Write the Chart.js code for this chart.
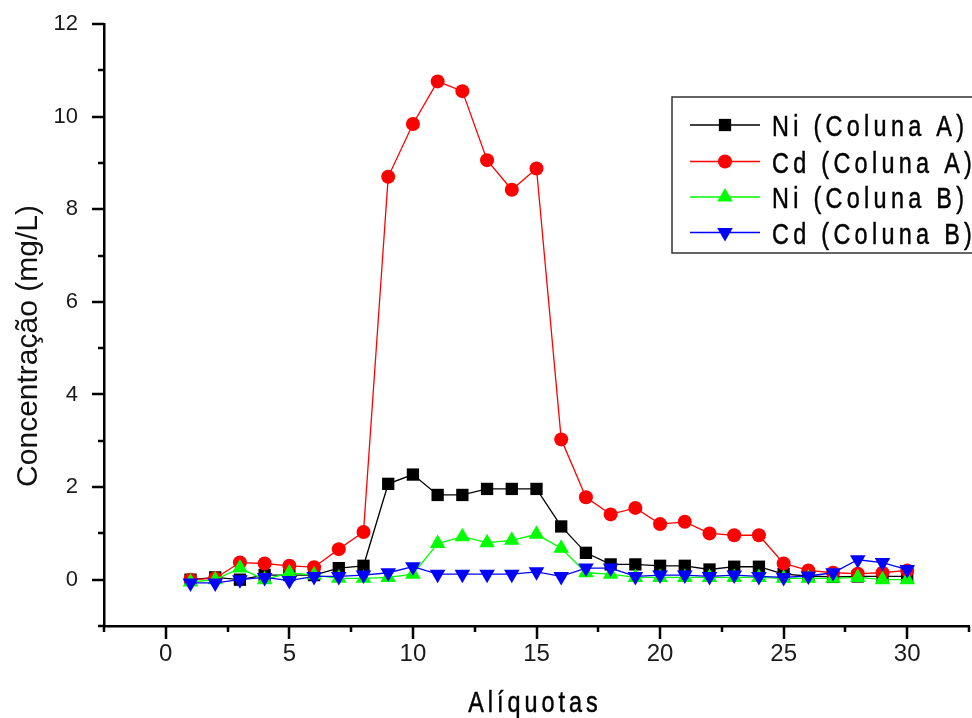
<!DOCTYPE html>
<html>
<head>
<meta charset="utf-8">
<script src="https://cdn.jsdelivr.net/npm/chart.js@4.4.1/dist/chart.umd.min.js"></script>
<style>
  body { margin: 0; background: #fff; }
  #chart { display: block; }
</style>
</head>
<body>
<canvas id="chart" width="972" height="718"></canvas>
<script>
// data
const aliquotas = [1, 2, 3, 4, 5, 6, 7, 8, 9, 10, 11, 12, 13, 14, 15, 16, 17, 18, 19, 20, 21, 22, 23, 24, 25, 26, 27, 28, 29, 30];
const niColunaA = [0.0, 0.05, 0.0, 0.1, 0.1, 0.1, 0.25, 0.3, 2.07, 2.27, 1.83, 1.83, 1.96, 1.96, 1.96, 1.15, 0.58, 0.33, 0.33, 0.3, 0.3, 0.22, 0.28, 0.28, 0.12, 0.08, 0.06, 0.07, 0.07, 0.07];
const cdColunaA = [0.0, 0.03, 0.37, 0.35, 0.3, 0.27, 0.66, 1.03, 8.7, 9.84, 10.76, 10.55, 9.06, 8.42, 8.88, 3.03, 1.78, 1.41, 1.55, 1.2, 1.25, 1.0, 0.96, 0.96, 0.35, 0.2, 0.15, 0.13, 0.15, 0.2];
const niColunaB = [-0.05, 0.0, 0.25, 0.0, 0.15, 0.1, 0.03, 0.03, 0.05, 0.12, 0.78, 0.93, 0.8, 0.85, 0.98, 0.68, 0.15, 0.12, 0.05, 0.05, 0.05, 0.05, 0.05, 0.05, 0.03, 0.03, 0.03, 0.05, 0.0, 0.0];
const cdColunaB = [-0.07, -0.07, 0.0, 0.05, -0.02, 0.07, 0.07, 0.1, 0.15, 0.28, 0.12, 0.12, 0.12, 0.12, 0.17, 0.07, 0.25, 0.25, 0.07, 0.1, 0.1, 0.07, 0.1, 0.07, 0.05, 0.08, 0.15, 0.43, 0.37, 0.22];

const seriesNames = ["Ni (Coluna A)", "Cd (Coluna A)", "Ni (Coluna B)", "Cd (Coluna B)"];
const xTitle = "Alíquotas";
const yTitle = "Concentração (mg/L)";

const canvas = document.getElementById("chart");

function points(values) {
    return aliquotas.map((a, i) => ({ x: a, y: values[i] }));
}

function series(label, values, color, style, radius, rotation, order) {
    return {
        label: label,
        data: points(values),
        borderColor: color,
        backgroundColor: color,
        borderWidth: 1.3,
        pointStyle: style,
        pointRadius: radius,
        pointRotation: rotation,
        pointBorderWidth: 0,
        pointBackgroundColor: color,
        order: order
    };
}

const datasets = [
    series(seriesNames[0], niColunaA, "#000000", "rect", 8.7, 0, 4),
    series(seriesNames[1], cdColunaA, "#ff0000", "circle", 7, 0, 3),
    series(seriesNames[2], niColunaB, "#00ff00", "triangle", 9, 0, 2),
    series(seriesNames[3], cdColunaB, "#0000ff", "triangle", 9, 180, 1)
];

// narrow, spaced-out text like the original export
function spacedText(ctx, text, x, y, align, spacing) {
    const squeeze = 0.78;
    ctx.save();
    ctx.font = '30px "Liberation Sans", Arial';
    ctx.letterSpacing = (spacing / squeeze) + "px";
    ctx.textAlign = align;
    ctx.translate(x, y);
    ctx.scale(squeeze, 1);
    ctx.fillText(text, 0, 0);
    ctx.lineWidth = 0.5;
    ctx.strokeStyle = ctx.fillStyle;
    ctx.strokeText(text, 0, 0);
    ctx.restore();
}

// major/minor tick marks, drawn outward like the original plot
const tickMarks = {
    id: "tickMarks",
    afterDraw(chart) {
        const ctx = chart.ctx;
        const xs = chart.scales.x;
        const ys = chart.scales.y;
        const area = chart.chartArea;
        ctx.save();
        ctx.strokeStyle = "#000";
        ctx.lineWidth = 2.5;
        ctx.beginPath();
        for (let v = -1; v <= 12; v++) {
            const y = Math.round(ys.getPixelForValue(v));
            const len = v % 2 === 0 ? 12 : 6;
            ctx.moveTo(area.left - len, y);
            ctx.lineTo(area.left, y);
        }
        for (let v = -2.5; v <= 32.5; v += 2.5) {
            const x = Math.round(xs.getPixelForValue(v));
            const len = v % 5 === 0 ? 13 : 6;
            ctx.moveTo(x, area.bottom);
            ctx.lineTo(x, area.bottom + len);
        }
        ctx.stroke();

        // y title, sitting a little below the axis middle as in the original
        ctx.save();
        ctx.translate(29, 346);
        ctx.rotate(-Math.PI / 2);
        ctx.font = '30px "Liberation Sans", Arial';
        ctx.fillStyle = "#111";
        ctx.textAlign = "center";
        ctx.textBaseline = "middle";
        ctx.fillText(yTitle, 0, 0);
        ctx.restore();
        ctx.restore();
    }
};

// boxed legend inside the plot, cut by the right edge as in the picture
const boxLegend = {
    id: "boxLegend",
    afterDraw(chart) {
        const ctx = chart.ctx;
        const rows = [125, 161.5, 197, 232.5];
        ctx.save();
        ctx.fillStyle = "#fff";
        ctx.fillRect(672, 97, 330, 156);
        ctx.strokeStyle = "#333";
        ctx.lineWidth = 1.5;
        ctx.strokeRect(672, 97, 330, 156);
        chart.data.datasets.forEach((ds, i) => {
            const y = rows[i];
            ctx.strokeStyle = ds.borderColor;
            ctx.lineWidth = 1.3;
            ctx.beginPath();
            ctx.moveTo(690, y);
            ctx.lineTo(760, y);
            ctx.stroke();
            ctx.fillStyle = ds.borderColor;
            Chart.helpers.drawPoint(ctx, {
                pointStyle: ds.pointStyle,
                radius: ds.pointRadius,
                rotation: ds.pointRotation,
                borderWidth: 0
            }, 725, y);
            ctx.fillStyle = "#000";
            ctx.textBaseline = "alphabetic";
            spacedText(ctx, ds.label, 772, y + 11, "left", 4.3);
        });
        // x title with its wide spacing
        ctx.fillStyle = "#000";
        ctx.textBaseline = "alphabetic";
        spacedText(ctx, xTitle, 535, 712, "center", 4);
        ctx.restore();
    }
};

let chart = new Chart(canvas, {
    type: "line",
    data: { datasets: datasets },
    options: {
        responsive: false,
        animation: false,
        devicePixelRatio: 1,
        layout: { autoPadding: false, padding: { top: 24, right: 3, left: 0, bottom: 0 } },
        plugins: {
            legend: { display: false },
            tooltip: { enabled: false }
        },
        scales: {
            x: {
                type: "linear",
                min: -2.5,
                max: 32.5,
                afterFit: (s) => { s.height = 92; s.paddingLeft = 0; s.paddingRight = 0; },
                grid: { display: false, drawTicks: false },
                border: { display: true, color: "#000", width: 2.5 },
                ticks: {
                    stepSize: 2.5,
                    autoSkip: false,
                    maxRotation: 0,
                    padding: 14,
                    color: "#1a1a1a",
                    font: { family: "Liberation Sans", size: 24 },
                    callback: (v) => (v % 5 === 0 ? v : "")
                }
            },
            y: {
                min: -1,
                max: 12,
                afterFit: (s) => { s.width = 104; s.paddingTop = 0; s.paddingBottom = 0; },
                grid: { display: false, drawTicks: false },
                border: { display: true, color: "#000", width: 2.5 },
                ticks: {
                    stepSize: 1,
                    autoSkip: false,
                    padding: 26,
                    color: "#1a1a1a",
                    font: { family: "Liberation Sans", size: 22 },
                    callback: (v) => (v % 2 === 0 ? v : "")
                }
            }
        }
    },
    plugins: [tickMarks, boxLegend]
});
</script>
</body>
</html>
